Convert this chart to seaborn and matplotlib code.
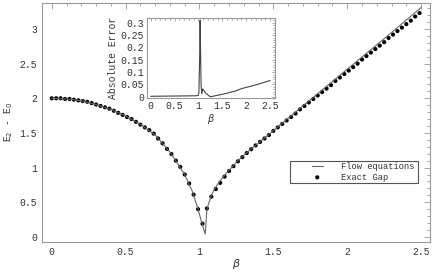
import numpy as np
import pandas as pd
import matplotlib
matplotlib.use("Agg")
import matplotlib.pyplot as plt
from matplotlib.ticker import MultipleLocator
from matplotlib.patches import Rectangle
import seaborn as sns

sns.set_style("white")
plt.rcParams['font.family'] = ['Liberation Mono', 'DejaVu Sans Mono']

# exact gap, one dot every 0.03 in beta (0 .. 2.49)
exact_beta = np.round(np.arange(0, 2.5, 0.03), 2)
exact_gap = [2.00, 2.00, 2.00, 1.99, 1.99, 1.98, 1.97, 1.96, 1.95, 1.93,   # 0.00-0.27
             1.91, 1.89, 1.87, 1.85, 1.82, 1.79, 1.76, 1.73, 1.70, 1.66,   # 0.30-0.57
             1.62, 1.58, 1.54, 1.49, 1.42, 1.35, 1.27, 1.195, 1.10, 1.01,  # 0.60-0.87
             0.90, 0.77, 0.61, 0.40, 0.19, 0.41, 0.58, 0.69, 0.78, 0.87,   # 0.90-1.17
             0.95, 1.02, 1.09, 1.15, 1.21, 1.265, 1.32, 1.37, 1.42, 1.47,  # 1.20-1.47
             1.53, 1.58, 1.63, 1.68, 1.73, 1.78, 1.84, 1.89, 1.94, 1.99,   # 1.50-1.77
             2.04, 2.09, 2.14, 2.19, 2.25, 2.30, 2.35, 2.40, 2.45, 2.50,   # 1.80-2.07
             2.56, 2.61, 2.66, 2.71, 2.76, 2.81, 2.87, 2.92, 2.97, 3.02,   # 2.10-2.37
             3.07, 3.12, 3.18, 3.23]                                       # 2.40-2.49

# flow equation curve
flow_beta = [0.0, 0.1, 0.2, 0.3, 0.4, 0.5, 0.6, 0.7, 0.8, 0.9, 0.95, 0.99, 1.02,
             1.039, 1.05, 1.08, 1.11, 1.14, 1.17, 1.2, 1.26, 1.32, 1.4, 1.7,
             2.0, 2.25, 2.5]
flow_gap = [2.00, 1.99, 1.965, 1.91, 1.84, 1.745, 1.625, 1.47, 1.225, 0.90, 0.665,
            0.40, 0.17, 0.04, 0.40, 0.60, 0.72, 0.81, 0.89, 0.96, 1.10, 1.215,
            1.355, 1.89, 2.42, 2.86, 3.31]

# absolute error (inset)
err_beta = [0.0, 0.5, 0.95, 1.0, 1.01, 1.025, 1.035, 1.045, 1.055, 1.07, 1.09,
            1.11, 1.15, 1.2, 1.25, 1.35, 1.5, 1.75, 1.92, 2.2, 2.5]
err_val = [0.002, 0.003, 0.004, 0.006, 0.02, 0.15, 0.31, 0.18, 0.05, 0.012, 0.032,
           0.026, 0.015, 0.007, 0.0, 0.004, 0.010, 0.022, 0.034, 0.048, 0.066]

df_exact = pd.DataFrame({"beta": exact_beta, "gap": exact_gap})
df_flow = pd.DataFrame({"beta": flow_beta, "gap": flow_gap})
df_err = pd.DataFrame({"beta": err_beta, "err": err_val})

fig = plt.figure(figsize=(4.33, 2.73), dpi=100)
ax = fig.add_axes([0.097, 0.114, 0.896, 0.875])

sns.lineplot(data=df_flow, x="beta", y="gap", ax=ax, color="#666666", lw=0.8,
             label="Flow equations")
sns.scatterplot(data=df_exact, x="beta", y="gap", ax=ax, color="black", s=9,
                edgecolor="none", label="Exact Gap")

ax.set_xlim(-0.066, 2.56)
ax.set_ylim(-0.072, 3.375)
ax.set_xlabel(r"$\beta$", fontsize=8, color="#333333", labelpad=0)
ax.set_ylabel(r"E$_2$ - E$_0$", fontsize=7, color="#333333", labelpad=3)


def frame(a, xmaj, xmin, ymaj, ymin, fs):
    a.xaxis.set_major_locator(MultipleLocator(xmaj))
    a.xaxis.set_minor_locator(MultipleLocator(xmin))
    a.yaxis.set_major_locator(MultipleLocator(ymaj))
    a.yaxis.set_minor_locator(MultipleLocator(ymin))
    a.tick_params(which="both", direction="in", top=True, right=True,
                  color="#999999", width=0.6, labelsize=fs, labelcolor="#333333")
    a.tick_params(which="major", length=4)
    a.tick_params(which="minor", length=2)
    for s in a.spines.values():
        s.set_color("#999999")
        s.set_linewidth(0.8)
    a.xaxis.set_major_formatter(plt.FuncFormatter(lambda v, p: f"{v:g}"))
    a.yaxis.set_major_formatter(plt.FuncFormatter(lambda v, p: f"{v:g}"))


frame(ax, 0.5, 0.1, 0.5, 0.1, 7)

# legend box drawn separately so the inner padding matches
ax.add_patch(Rectangle((0.639, 0.247), 0.330, 0.092, transform=ax.transAxes,
                       facecolor="white", edgecolor="#555555", lw=0.8, zorder=4))
leg = ax.legend(loc="upper left", bbox_to_anchor=(0.696, 0.333), borderaxespad=0,
                fontsize=6.3, frameon=False, handlelength=1.2, handletextpad=2.1,
                borderpad=0, labelspacing=0.15)
leg.set_zorder(5)
for t in leg.get_texts():
    t.set_color("#333333")

# inset
ins = fig.add_axes([0.339, 0.641, 0.296, 0.293])
sns.lineplot(data=df_err, x="beta", y="err", ax=ins, color="#444444", lw=0.8)
ins.set_xlim(-0.08, 2.6)
ins.set_ylim(-0.005, 0.319)
frame(ins, 0.5, 0.1, 0.05, 0.01, 7)
ins.tick_params(which="major", length=2.5, pad=2)
ins.tick_params(which="minor", length=1.2)
ins.set_xlabel(r"$\beta$", fontsize=7, color="#333333", labelpad=1)
ins.set_ylabel("Absolute Error", fontsize=7, color="#333333", labelpad=2)

fig.savefig("out.png", dpi=100)
